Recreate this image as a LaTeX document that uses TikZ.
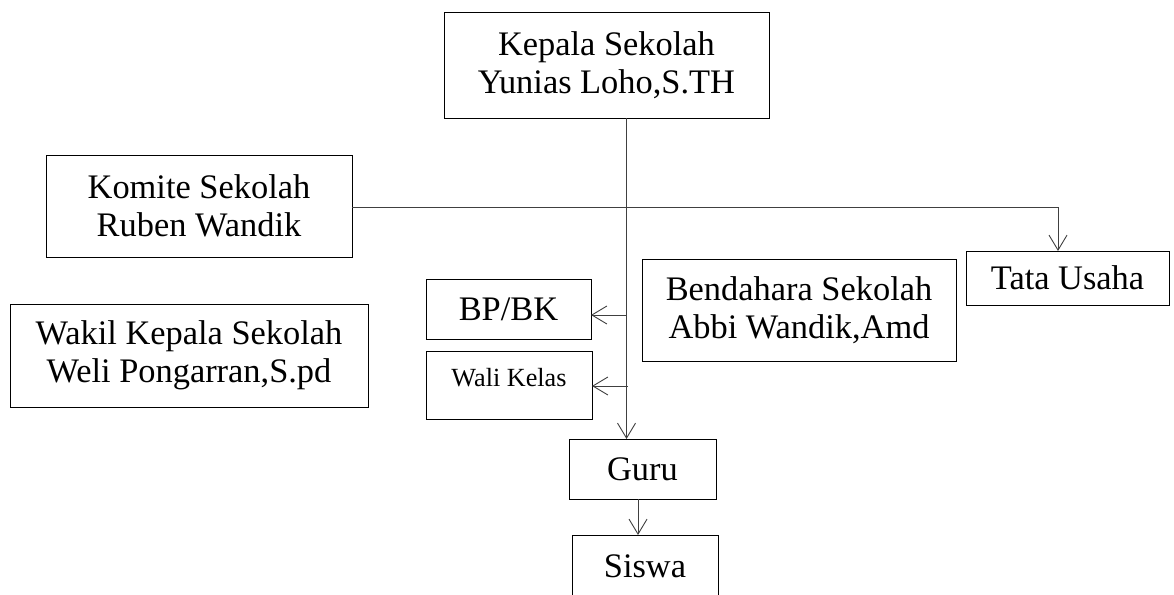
\documentclass[tikz,border=0pt]{standalone}
\usepackage{fontspec}
\setmainfont{Liberation Serif}
\usetikzlibrary{arrows.meta}
\begin{document}
\begin{tikzpicture}[x=1pt,y=-1pt,
  box/.style={draw=black, line width=1pt, inner sep=0pt, outer sep=0pt, align=center,
    font=\fontsize{34.4}{38}\selectfont, anchor=north west},
  conn/.style={draw=black!75, line width=0.9pt, -{Straight Barb[length=15pt,width=18pt]}},
  plain/.style={draw=black!75, line width=0.9pt}]
\clip (0,0) rectangle (1174,594);
\fill[white] (0,0) rectangle (1174,594);

\node[box, minimum width=325pt, minimum height=105pt] (kepala) at (444,13) {Kepala Sekolah\\Yunias Loho,S.TH};
\node[box, minimum width=306pt, minimum height=102pt] (komite) at (46,155) {Komite Sekolah\\Ruben Wandik};
\node[box, minimum width=358pt, minimum height=103pt] (wakil) at (10,304) {Wakil Kepala Sekolah\\Weli Pongarran,S.pd};
\node[box, minimum width=314pt, minimum height=102pt] (bendahara) at (642,259) {Bendahara Sekolah\\Abbi Wandik,Amd};
\node[box, minimum width=203pt, minimum height=54pt] (tata) at (966,251) {Tata Usaha};
\node[box, minimum width=165pt, minimum height=60pt] (bpbk) at (426,279) {BP/BK};
\node[box, minimum width=166pt, minimum height=68pt, font=\fontsize{26.2}{30}\selectfont,
  text height=18pt, text depth=16pt] (wali) at (426,351) {Wali Kelas};
\node[box, minimum width=147pt, minimum height=60pt] (guru) at (569,439) {Guru};
\node[box, minimum width=146pt, minimum height=62pt] (siswa) at (572,535) {Siswa};

\coordinate (spine) at (626.5,0);
\coordinate (jb) at (626.5,315);
\coordinate (jw) at (628,386);
\coordinate (tu) at (1058,207);
\coordinate (gs) at (638,0);

\draw[conn] (kepala.south -| spine) -- (guru.north -| spine);
\draw[conn] (jb) -- (jb -| bpbk.east);
\draw[conn] (jw) -- (jw -| wali.east);
\draw[conn] (komite.east |- tu) -- (tu) -- (tata.north -| tu);
\draw[conn] (guru.south -| gs) -- (siswa.north -| gs);
\end{tikzpicture}
\end{document}
